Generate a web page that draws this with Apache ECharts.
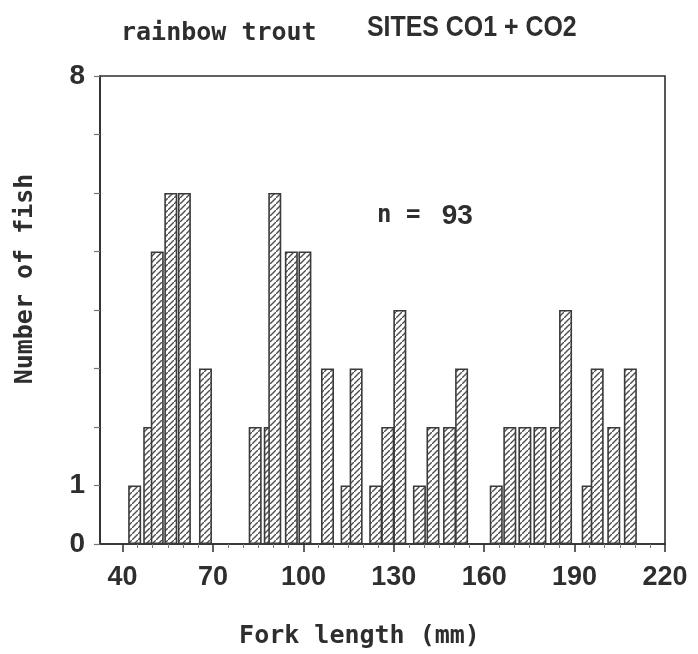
<!DOCTYPE html>
<html>
<head>
<meta charset="utf-8">
<script src="https://cdn.jsdelivr.net/npm/echarts@6/dist/echarts.min.js"></script>
<style>
  html, body { margin: 0; padding: 0; background: #fff; }
  #chart { width: 698px; height: 654px; }
</style>
</head>
<body>
<div id="chart"></div>
<script>
// fork length (mm, bar centre) and number of fish
const lengths = [44, 49, 51.5, 56, 60.5, 67.5,
  84, 89, 90.5, 96, 100.5, 108, 114.5, 117.5, 124, 128, 132, 138.5, 143, 148.5, 152.5,
  164, 168.5, 173.5, 178.5, 184, 187, 194.5, 197.5, 203, 208.5];
const counts = [1, 2, 5, 6, 6, 3,
  2, 2, 6, 5, 5, 3, 1, 3, 1, 2, 4, 1, 2, 2, 3,
  1, 2, 2, 2, 2, 4, 1, 3, 2, 3];
const xTicks = [40, 70, 100, 130, 160, 190, 220];
const xMinorTicks = [45, 50, 55, 60, 65, 75, 80, 85, 90, 95, 105, 110, 115, 120, 125,
  135, 140, 145, 150, 155, 165, 170, 175, 180, 185, 195, 200, 205, 210, 215];
const yLabelled = [0, 1, 8];

const ink = '#2e2e2e';
const mono = '"DejaVu Sans Mono", "Liberation Mono", monospace';
const sans = '"Liberation Sans", Arial, sans-serif';

// diagonal hatch fill
function hatch() {
  const c = document.createElement('canvas');
  c.width = 6; c.height = 6;
  const g = c.getContext('2d');
  g.fillStyle = '#fff';
  g.fillRect(0, 0, 6, 6);
  g.strokeStyle = '#505050';
  g.lineWidth = 1.4;
  g.beginPath();
  g.moveTo(-1, 7); g.lineTo(7, -1);
  g.stroke();
  return c;
}

const chart = echarts.init(document.getElementById('chart'));
chart.setOption({
  animation: false,
  title: [
    { text: 'rainbow trout', left: 116, top: 16,
      textStyle: { fontFamily: mono, fontWeight: 'bold', fontSize: 25, color: ink } },
    { text: '{a|n = }{b|93}', left: 372, top: 197,
      textStyle: { rich: {
        a: { fontFamily: mono, fontWeight: 'bold', fontSize: 24, color: ink },
        b: { fontFamily: sans, fontWeight: 'bold', fontSize: 28, color: ink, padding: [0, 0, 0, 7] }
      } } }
  ],
  graphic: [{
    type: 'text', x: 367, y: 13, scaleX: 0.83,
    style: { text: 'SITES CO1 + CO2', font: 'bold 30px "Liberation Sans", Arial, sans-serif', fill: ink }
  }],
  grid: { left: 100, right: 33, top: 76, bottom: 109, show: true,
    borderColor: ink, borderWidth: 1.6, backgroundColor: 'transparent' },
  xAxis: [{
    type: 'value', min: 32.5, max: 220,
    name: 'Fork length (mm)', nameLocation: 'middle', nameGap: 80,
    nameTextStyle: { fontFamily: mono, fontWeight: 'bold', fontSize: 25, color: ink, padding: [0, 46, 0, 0] },
    axisLine: { lineStyle: { color: ink, width: 1.6 } },
    axisTick: { customValues: xTicks, length: 8, lineStyle: { color: ink, width: 1.5 } },
    axisLabel: { customValues: xTicks, margin: 20, fontFamily: sans, fontWeight: 'bold', fontSize: 27, color: ink },
    splitLine: { show: false }
  }, {
    type: 'value', min: 32.5, max: 220, position: 'bottom',
    axisLine: { show: false },
    axisTick: { customValues: xMinorTicks, length: 4, lineStyle: { color: '#777', width: 1 } },
    axisLabel: { show: false },
    splitLine: { show: false }
  }],
  yAxis: {
    type: 'value', min: 0, max: 8, interval: 1,
    name: 'Number of fish', nameLocation: 'middle', nameGap: 62, nameRotate: 90,
    nameTextStyle: { fontFamily: mono, fontWeight: 'bold', fontSize: 25, color: ink, padding: [0, 0, 0, 62] },
    axisLine: { show: true, lineStyle: { color: ink, width: 1.6 } },
    axisTick: { show: true, length: 6, lineStyle: { color: '#777', width: 1.2 } },
    axisLabel: { margin: 15, fontFamily: sans, fontWeight: 'bold', fontSize: 28, color: ink,
      formatter: v => (yLabelled.indexOf(v) >= 0 ? String(v) : '') },
    splitLine: { show: false }
  },
  series: [{
    type: 'bar',
    xAxisIndex: 0,
    barWidth: 13,
    data: lengths.map((x, i) => [x, counts[i]]),
    itemStyle: { color: { image: hatch(), repeat: 'repeat' }, borderColor: '#3a3a3a', borderWidth: 1.6 }
  }]
});
</script>
</body>
</html>
